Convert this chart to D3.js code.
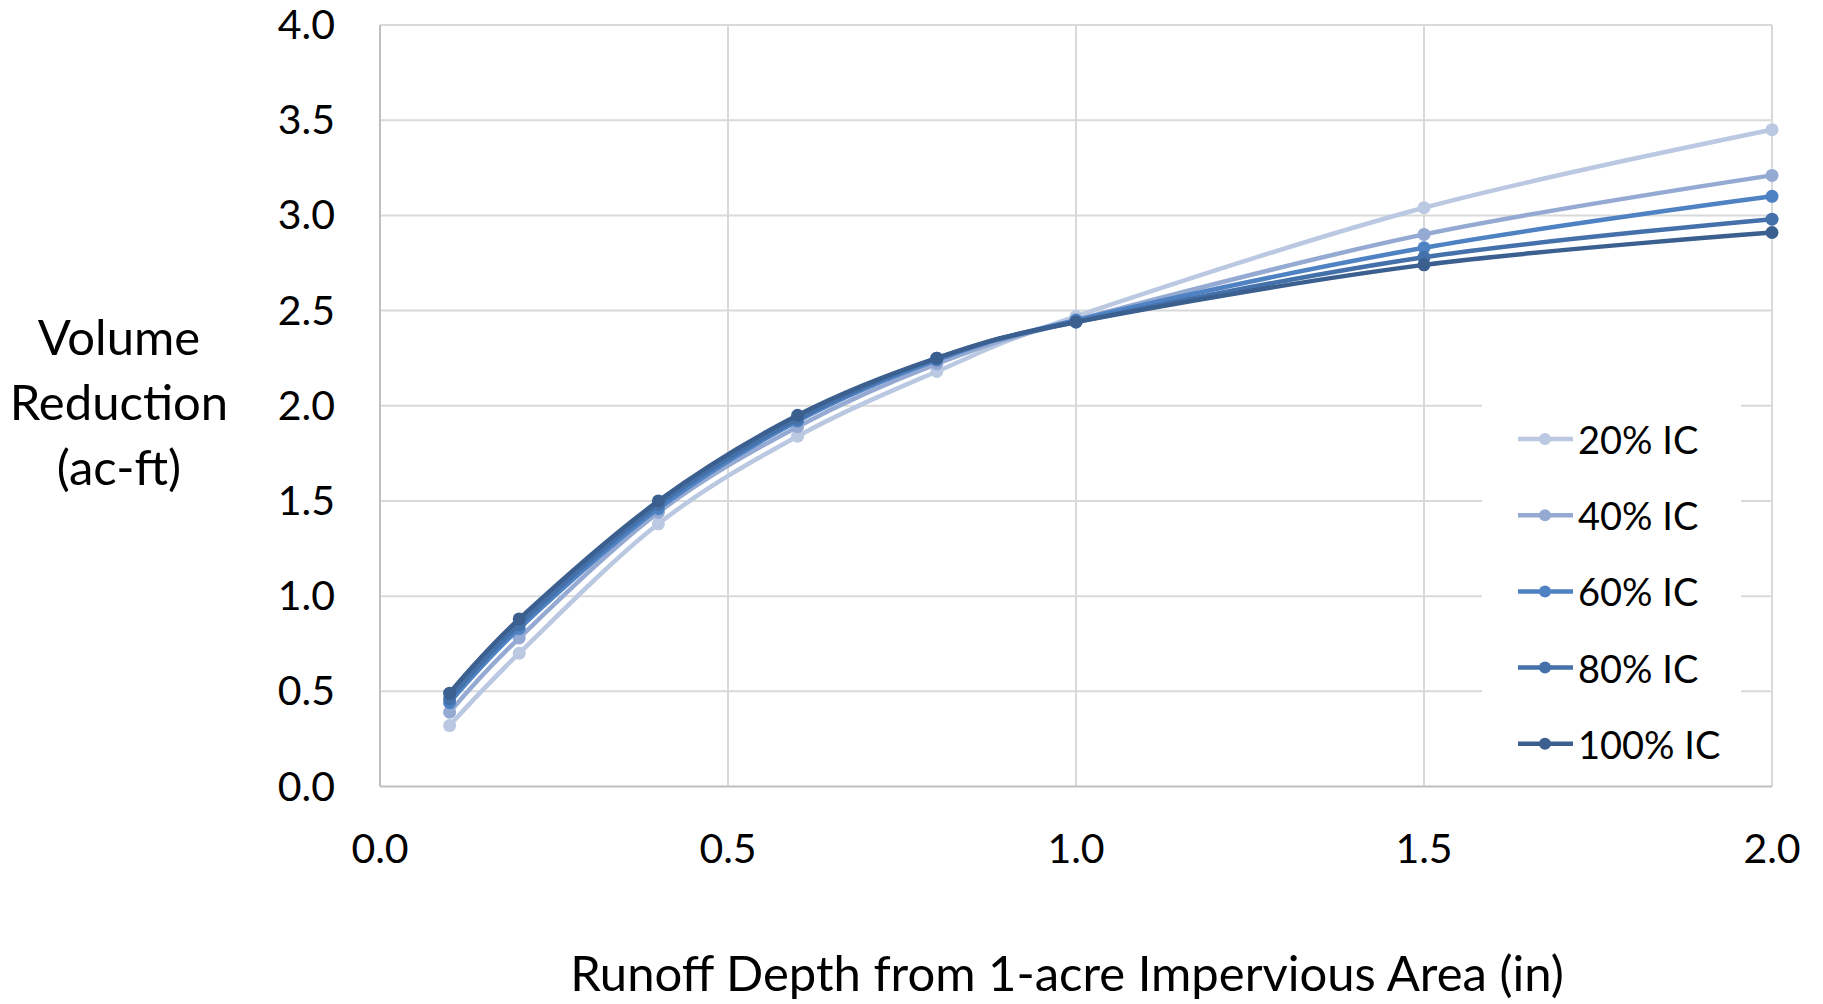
<!DOCTYPE html>
<html>
  <head>
    <meta charset="utf-8">
    <title>volume reduction</title>
    <style>
      body { margin:0; background:#fff; }
      text { font-family: Lato, "Open Sans", sans-serif; fill:#000; }
    </style>
  </head>
  <body>
    <div id="container"></div>
    <script src="https://cdn.jsdelivr.net/npm/d3@7"></script>
    <script>
      // runoff depth (in)
      var depths = [0.1, 0.2, 0.4, 0.6, 0.8, 1.0, 1.5, 2.0];
      // volume reduction (ac-ft) per impervious cover
      var ic20  = [0.32, 0.70, 1.38, 1.84, 2.18, 2.47, 3.04, 3.45];
      var ic40  = [0.39, 0.78, 1.44, 1.89, 2.22, 2.45, 2.90, 3.21];
      var ic60  = [0.44, 0.83, 1.46, 1.92, 2.24, 2.45, 2.83, 3.10];
      var ic80  = [0.46, 0.85, 1.48, 1.93, 2.25, 2.44, 2.78, 2.98];
      var ic100 = [0.49, 0.88, 1.50, 1.95, 2.25, 2.44, 2.74, 2.91];
      var seriesNames = ["20% IC", "40% IC", "60% IC", "80% IC", "100% IC"];
      var xTicks = [0, 0.5, 1.0, 1.5, 2.0];
      var yTicks = [0, 0.5, 1.0, 1.5, 2.0, 2.5, 3.0, 3.5, 4.0];

      var colors = ["#bac8e1", "#95aad3", "#4f82c3", "#4571aa", "#3b5f8f"];
      var values = [ic20, ic40, ic60, ic80, ic100];

      var width = 1823, height = 1004;
      var x = d3.scaleLinear().domain([0, 2]).range([380, 1772]);
      var y = d3.scaleLinear().domain([0, 4]).range([786.5, 25]);

      var svg = d3.select("#container").append("svg")
        .attr("width", width)
        .attr("height", height);

      // gridlines
      svg.append("g").selectAll("line")
        .data(yTicks.filter(function(d){ return d > 0; }))
        .enter().append("line")
          .attr("x1", x(0)).attr("x2", x(2))
          .attr("y1", function(d){ return y(d); })
          .attr("y2", function(d){ return y(d); })
          .attr("stroke", "#d9d9d9").attr("stroke-width", 2);
      svg.append("g").selectAll("line")
        .data(xTicks.filter(function(d){ return d > 0; }))
        .enter().append("line")
          .attr("x1", function(d){ return x(d); })
          .attr("x2", function(d){ return x(d); })
          .attr("y1", y(0)).attr("y2", y(4))
          .attr("stroke", "#d9d9d9").attr("stroke-width", 2);

      // legend box hides grid behind it
      var lg = svg.append("g");
      lg.append("rect")
        .attr("x", 1482).attr("y", 392)
        .attr("width", 259).attr("height", y(0) - 393)
        .attr("fill", "#fff");

      // axes lines
      svg.append("line")
        .attr("x1", x(0)).attr("x2", x(0)).attr("y1", y(0)).attr("y2", y(4))
        .attr("stroke", "#bfbfbf").attr("stroke-width", 2);
      svg.append("line")
        .attr("x1", x(0)).attr("x2", x(2)).attr("y1", y(0)).attr("y2", y(0))
        .attr("stroke", "#bfbfbf").attr("stroke-width", 2);

      // tick labels
      svg.append("g").selectAll("text")
        .data(yTicks)
        .enter().append("text")
          .attr("x", 335)
          .attr("y", function(d){ return y(d) + 14; })
          .attr("text-anchor", "end")
          .attr("font-size", 41)
          .text(function(d){ return d3.format(".1f")(d); });
      svg.append("g").selectAll("text")
        .data(xTicks)
        .enter().append("text")
          .attr("x", function(d){ return x(d); })
          .attr("y", 863)
          .attr("text-anchor", "middle")
          .attr("font-size", 41)
          .text(function(d){ return d3.format(".1f")(d); });

      // axis titles
      svg.append("text")
        .attr("x", 1067).attr("y", 991)
        .attr("text-anchor", "middle")
        .attr("font-size", 49)
        .text("Runoff Depth from 1-acre Impervious Area (in)");
      var yt = svg.append("text")
        .attr("text-anchor", "middle")
        .attr("font-size", 49);
      ["Volume", "Reduction", "(ac-ft)"].forEach(function(s, i){
        yt.append("tspan").attr("x", 119).attr("y", 355 + i*65).text(s);
      });

      // series
      var line = d3.line()
        .x(function(d){ return x(d[0]); })
        .y(function(d){ return y(d[1]); })
        .curve(d3.curveCardinal.tension(0));

      values.forEach(function(v, i){
        var pts = depths.map(function(dx, j){ return [dx, v[j]]; });
        var g = svg.append("g");
        g.append("path")
          .attr("d", line(pts))
          .attr("fill", "none")
          .attr("stroke", colors[i])
          .attr("stroke-width", 4.5);
        g.selectAll("circle")
          .data(pts)
          .enter().append("circle")
            .attr("cx", function(d){ return x(d[0]); })
            .attr("cy", function(d){ return y(d[1]); })
            .attr("r", 6.5)
            .attr("fill", colors[i]);
      });

      // legend entries
      seriesNames.forEach(function(s, i){
        var ly = 439 + i*76.2;
        lg.append("line")
          .attr("x1", 1518).attr("x2", 1573)
          .attr("y1", ly).attr("y2", ly)
          .attr("stroke", colors[i]).attr("stroke-width", 4.5);
        lg.append("circle")
          .attr("cx", 1545).attr("cy", ly).attr("r", 6)
          .attr("fill", colors[i]);
        lg.append("text")
          .attr("x", 1578).attr("y", ly + 15)
          .attr("font-size", 38)
          .text(s);
      });
    </script>
  </body>
</html>
